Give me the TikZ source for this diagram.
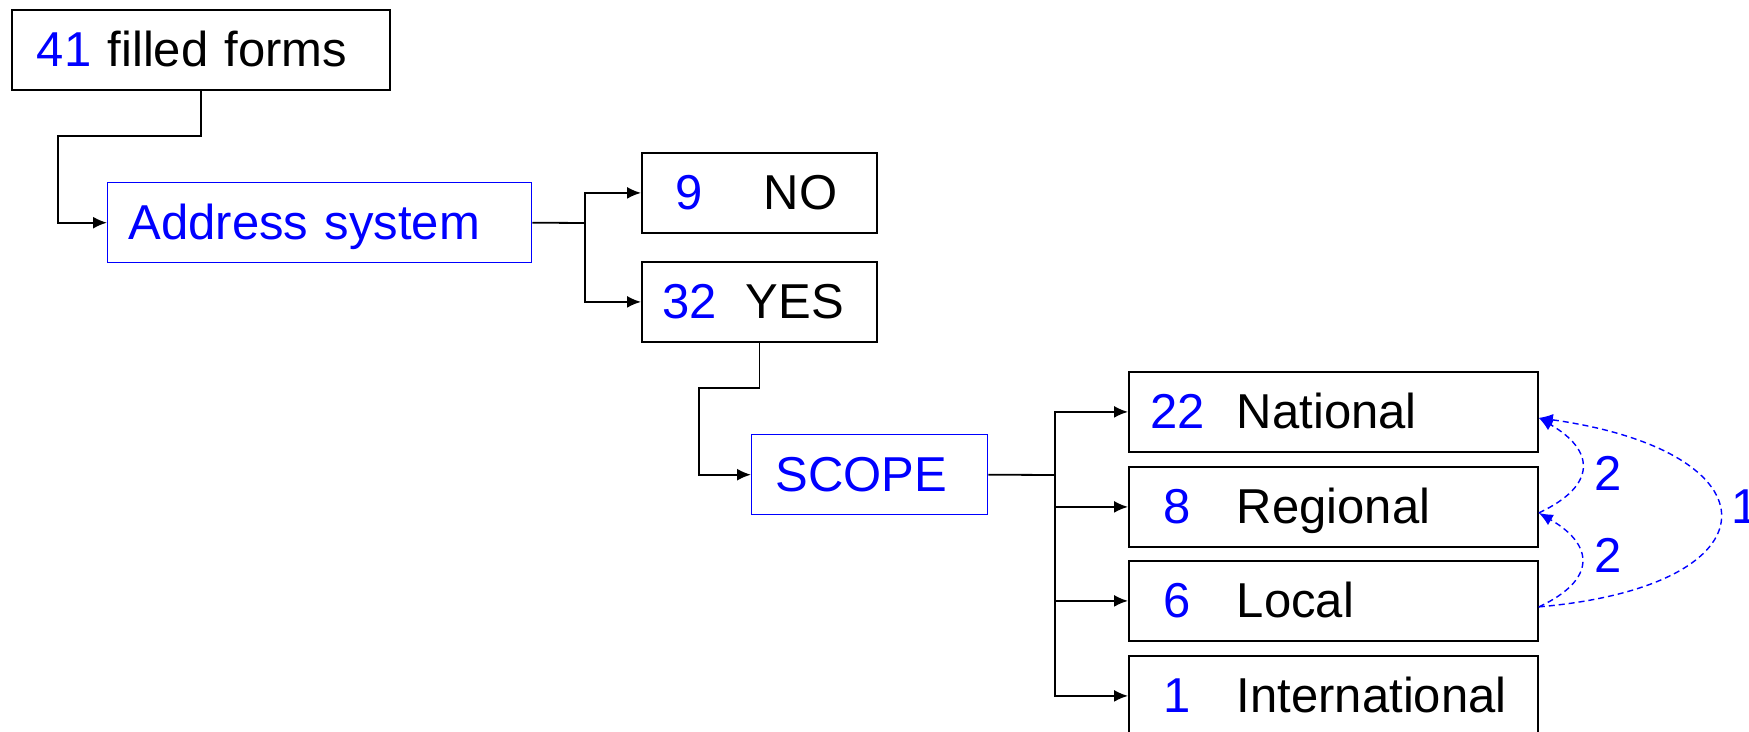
\documentclass[tikz,border=0pt]{standalone}
\usepackage{fontspec}
\setmainfont{Liberation Sans}
\usetikzlibrary{arrows.meta}

\newdimen\pxu \pxu=0.5pt
\newcommand\tallytext[4]{\hspace*{#1\pxu}\makebox[55\pxu][c]{\color{blue}#2}\hspace*{#3\pxu}#4}

\tikzset{
  stage/.style={draw, line width=0.9pt, anchor=north west, inner xsep=0pt, inner ysep=0pt,
    minimum height=80\pxu, text height=38\pxu, text depth=4\pxu, align=left},
  bluestage/.style={stage, draw=blue, line width=0.7pt, text=blue},
  link/.style={line width=0.9pt, -{Latex[length=7pt,width=6pt]}},
  plain/.style={line width=0.9pt},
  back/.style={blue, line width=0.7pt, dash pattern=on 3pt off 2pt, -{Latex[length=7pt,width=6pt]}},
  cnt/.style={blue, anchor=base west, inner sep=0pt}
}

\begin{document}
\begin{tikzpicture}[x=0.5pt, y=-0.5pt, font=\fontsize{24.5}{29}\selectfont]
\useasboundingbox (0,0) rectangle (1749,732);

\node[stage, text width=378\pxu] (forms) at (11,9) {\hspace*{25\pxu}{\color{blue}41} filled forms};
\node[bluestage, text width=424\pxu] (addr) at (107,182) {\hspace*{21\pxu}Address system};
\node[stage, text width=235\pxu] (no) at (641,152) {\tallytext{20}{9}{47}{NO}};
\node[stage, text width=235\pxu] (yes) at (641,261) {\tallytext{20}{32}{29}{YES}};
\node[bluestage, text width=236\pxu] (scope) at (751,434) {\hspace*{24\pxu}SCOPE};

\node[stage, text width=409\pxu] (nat) at (1128,371) {\tallytext{21}{22}{32}{National}};
\node[stage, text width=409\pxu] (reg) at (1128,466) {\tallytext{21}{8}{32}{Regional}};
\node[stage, text width=409\pxu] (loc) at (1128,560) {\tallytext{21}{6}{32}{Local}};
\node[stage, text width=409\pxu] (intl) at (1128,655) {\tallytext{21}{1}{32}{International}};

\coordinate (bend1) at (58,136);
\coordinate (fork1) at (585,223);
\coordinate (bend2) at (699,388);
\coordinate (fork2) at (1055,475);

\draw[link] (forms.south) |- (bend1) |- (addr.west);
\draw[plain] (addr.east) -- (fork1);
\draw[link] (fork1) |- (no.west);
\draw[link] (fork1) |- (yes.west);
\draw[link] (yes.south) |- (bend2) |- (scope.west);
\draw[plain] (scope.east) -- (fork2);
\foreach \n in {nat,reg,loc,intl}
  \draw[link] (fork2) |- (\n.west);

% moves between scopes
\draw[back] ([yshift=-3pt]loc.east) to[out=25,in=-30,looseness=1.75] ([yshift=-3pt]reg.east);
\draw[back] ([yshift=-3pt]reg.east) to[out=25,in=-30,looseness=1.75] ([yshift=-3pt]nat.east);
\draw[back] ([yshift=-3pt]loc.east) to[out=5,in=-8,looseness=3.3] ([yshift=-3pt]nat.east);
\node[cnt] (uptwo) at (1594,490) {2};
\node[cnt] (lowtwo) at (1594,572) {2};
\node[cnt] (one) at (1731,523) {1};
\end{tikzpicture}
\end{document}
